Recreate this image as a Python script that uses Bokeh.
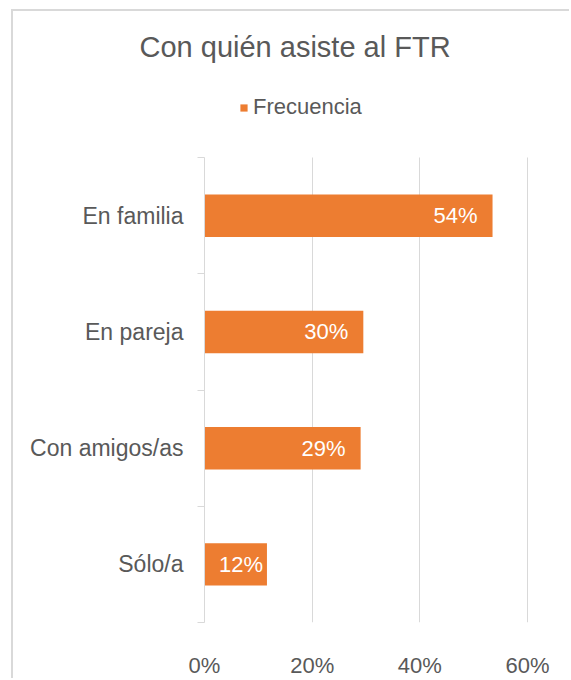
from bokeh.plotting import figure
from bokeh.models import (ColumnDataSource, Range1d, FixedTicker, PrintfTickFormatter,
                          Legend, LegendItem, Title)
from bokeh.embed import file_html
from bokeh.resources import INLINE
from bokeh.core.properties import value

title_text = "Con quién asiste al FTR"
series_name = "Frecuencia"
categories = ["En familia", "En pareja", "Con amigos/as", "Sólo/a"]
values = [53.5, 29.5, 29.0, 11.6]
x_ticks = [0, 20, 40, 60]

FONT = "Liberation Sans"
TXT = "#595959"
GRID = "#d9d9d9"
ORANGE = "#ED7D31"

# layout (canvas px)
W, H = 558, 669
FRAME_TOP = 56          # top of frame (legend lives inside it)
PLOT_TOP = 147          # top of the category area
PLOT_BOTTOM = 616
n = len(categories)
cat_px = (PLOT_BOTTOM - PLOT_TOP) / n
y_end = n - 0.5 + (PLOT_TOP - FRAME_TOP) / cat_px

ypos = [n - 1 - i for i in range(n)]
labels = [f"{round(v + 0.01)}%" for v in values]
offsets = [-15 if v > 20 else -4 for v in values]

src = ColumnDataSource(dict(cat=categories, y=ypos, v=values, lab=labels, off=offsets))

p = figure(width=W, height=H, output_backend="svg", toolbar_location=None,
           x_range=Range1d(0, 60.18), y_range=Range1d(-0.5, y_end),
           min_border_left=191, min_border_right=43, min_border_top=FRAME_TOP,
           min_border_bottom=H - PLOT_BOTTOM)
p.outline_line_color = None
p.background_fill_color = "white"
p.border_fill_color = "white"
p.styles = {"margin-left": "11px", "margin-top": "9px",
            "border-left": "2px solid #d9d9d9", "border-top": "2px solid #d9d9d9"}

bars = p.hbar(y="y", right="v", left=0, height=0.365, source=src,
              fill_color=ORANGE, line_color=None)

p.text(x="v", y="y", text="lab", source=src, x_offset="off",
       text_align="right", text_baseline="middle", text_color="white",
       text_font=value(FONT), text_font_size="22px")

# x axis
xa = p.xaxis[0]
xa.ticker = FixedTicker(ticks=x_ticks)
xa.formatter = PrintfTickFormatter(format="%d%%")
xa.axis_line_color = None
xa.major_tick_line_color = None
xa.minor_tick_line_color = None
xa.major_label_text_font = FONT
xa.major_label_text_font_size = "22px"
xa.major_label_text_color = TXT
xa.major_label_standoff = 24

# y axis
ya = p.yaxis[0]
ya.bounds = (-0.5, n - 0.5)
ya.ticker = FixedTicker(ticks=ypos, minor_ticks=[k - 0.5 for k in range(n + 1)])
ya.major_label_overrides = {y: c for y, c in zip(ypos, categories)}
ya.axis_line_color = GRID
ya.axis_line_width = 1
ya.major_tick_line_color = None
ya.major_tick_out = 0
ya.major_tick_in = 0
ya.minor_tick_line_color = GRID
ya.minor_tick_out = 7
ya.minor_tick_in = 0
ya.major_label_text_font = FONT
ya.major_label_text_font_size = "23px"
ya.major_label_text_color = TXT
ya.major_label_standoff = 14

p.xgrid.ticker = FixedTicker(ticks=[t for t in x_ticks if t > 0])
p.xgrid.cross_bounds = (-0.5, n - 0.5)
p.xgrid.grid_line_color = GRID
p.xgrid.grid_line_width = 1
p.ygrid.grid_line_color = None

legend = Legend(items=[LegendItem(label=series_name, renderers=[bars])],
                location=(35, 502), orientation="horizontal",
                glyph_width=9, glyph_height=9, label_height=26, label_standoff=5,
                padding=0, margin=0, border_line_color=None, background_fill_alpha=0,
                label_text_font=FONT, label_text_font_size="22px", label_text_color=TXT)
p.add_layout(legend, "center")

p.add_layout(Title(text=title_text, align="left", offset=-65, text_font=FONT,
                   text_font_size="29px", text_font_style="normal", text_color=TXT),
             "above")

open("out.html", "w").write(file_html(p, INLINE))
